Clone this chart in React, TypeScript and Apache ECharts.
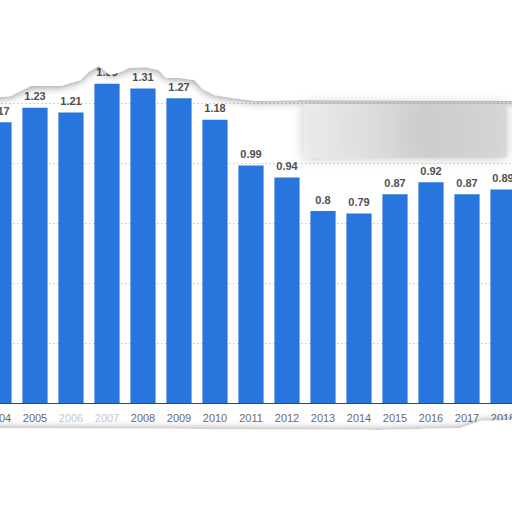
import React, { useEffect, useRef } from "react";
import * as echarts from "echarts";

const years = ["2004", "2005", "2006", "2007", "2008", "2009", "2010", "2011", "2012", "2013", "2014", "2015", "2016", "2017", "2018"];
const values = [1.17, 1.23, 1.21, 1.33, 1.31, 1.27, 1.18, 0.99, 0.94, 0.8, 0.79, 0.87, 0.92, 0.87, 0.89];
const fadedYears = ["2006", "2007"];

const OFF = 19.5;
const P = (x: number, y: number) => [x + OFF, y];

export default function App() {
  const ref = useRef<HTMLDivElement>(null);
  useEffect(() => {
    if (!ref.current) return;
    const chart = echarts.init(ref.current, undefined, { renderer: "svg" });
    chart.setOption({
      animation: false,
      backgroundColor: "#ffffff",
      grid: { left: 0, right: 0, top: 43, bottom: 109, containLabel: false },
      xAxis: {
        type: "category",
        data: years.map((y) => (fadedYears.includes(y) ? { value: y, textStyle: { color: "#c8c8c8" } } : y)),
        axisLine: { show: true, lineStyle: { color: "#444", width: 1 } },
        axisTick: { show: false },
        axisLabel: { color: "#6a6a6a", fontSize: 11, fontFamily: "Liberation Sans", margin: 9, interval: 0 },
      },
      yAxis: {
        type: "value",
        min: 0,
        max: 1.5,
        interval: 0.25,
        axisLabel: { show: false },
        axisLine: { show: false },
        axisTick: { show: false },
        splitLine: { show: true, lineStyle: { color: "#d4d4d4", type: [2, 2], width: 1 } },
      },
      series: [
        {
          type: "bar",
          data: values,
          barCategoryGap: "30%",
          itemStyle: { color: "#2876dd" },
          label: {
            show: true,
            position: "top",
            distance: 6,
            color: "#505050",
            fontSize: 11,
            fontWeight: "bold",
            fontFamily: "Liberation Sans",
          },
        },
      ],
      graphic: [
        {
          type: "polygon",
          z: 100,
          shape: {
            points: [
              P(-20, -20), P(532, -20), P(532, 101), P(470, 101), P(300, 100), P(256, 101),
              P(232, 98), P(214, 95), P(202, 89), P(194, 80), P(180, 78), P(166, 78), P(158, 70), P(145, 67),
              P(128, 68), P(120, 72), P(110, 75), P(98, 66), P(88, 72), P(80, 80), P(60, 86), P(30, 86),
              P(10, 96), P(-20, 99),
            ],
          },
          style: { fill: "#ffffff", shadowBlur: 8, shadowColor: "rgba(0,0,0,0.45)", shadowOffsetY: 1 },
        },
        {
          type: "rect",
          z: 101,
          shape: { x: 303 + OFF, y: 104, width: 203, height: 54, r: 4 },
          style: {
            fill: new echarts.graphic.LinearGradient(0, 0, 1, 0, [
              { offset: 0, color: "rgba(238,238,238,0.9)" },
              { offset: 0.3, color: "rgba(225,225,225,0.9)" },
              { offset: 0.6, color: "rgba(205,205,205,0.9)" },
              { offset: 1, color: "rgba(215,215,215,0.9)" },
            ]),
            shadowBlur: 12,
            shadowColor: "rgba(170,170,170,0.8)",
          },
        },
        {
          type: "polygon",
          z: 100,
          shape: {
            points: [
              P(-20, 428), P(380, 430), P(460, 428), P(480, 421), P(532, 419), P(532, 540), P(-20, 540),
            ],
          },
          style: { fill: "#ffffff", shadowBlur: 7, shadowColor: "rgba(0,0,0,0.35)", shadowOffsetY: -1 },
        },
      ],
    });
    return () => chart.dispose();
  }, []);
  return <div ref={ref} style={{ position: "fixed", left: -OFF, top: 0, width: 540, height: 512 }} />;
}
